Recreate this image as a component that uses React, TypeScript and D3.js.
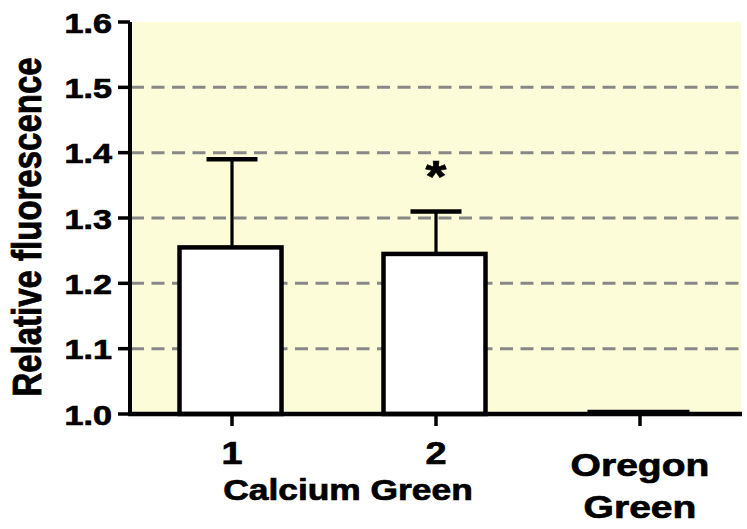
import React from "react";
import * as d3 from "d3";

const categories = ["1", "2", "Oregon Green"];
const means = [1.255, 1.245, 1.003];
const errTops = [1.39, 1.31, 1.003];
const significance = ["", "*", ""];
const yTicks = [1.0, 1.1, 1.2, 1.3, 1.4, 1.5, 1.6];
const gridValues = [1.1, 1.2, 1.3, 1.4, 1.5];
const groupLabel = "Calcium Green";
const yTitle = "Relative fluorescence";

const W = 747;
const H = 529;
const left = 130;
const right = 742;
const top = 22;
const bottom = 414;
const SX = 1.22;
const FONT = "'Liberation Sans', Arial, Helvetica, sans-serif";
const TS = { stroke: "#000", strokeWidth: 0.7 };

export default function App() {
  const y = d3.scaleLinear().domain([1.0, 1.6]).range([bottom, top]);
  const x = d3.scalePoint<string>().domain(categories).range([left, right]).padding(0.5);
  const step = x.step();
  const barW = step * 0.5;
  const capW = 51;

  return (
    <svg width={W} height={H} style={{ position: "absolute", left: 0, top: 0, background: "#fff" }}>
      <rect x={left} y={top} width={right - left - 1} height={bottom - top} fill="#FCFCD8" />
      {gridValues.map((v) => (
        <line key={v} x1={left + 1} x2={right - 1} y1={y(v)} y2={y(v)} stroke="#888" strokeWidth={3} strokeDasharray="13 7.5" />
      ))}
      {categories.map((c, i) => {
        const cx = x(c)! - 1.5;
        const tall = y(1.0) - y(means[i]) > 4;
        return (
          <g key={c}>
            {errTops[i] > means[i] && (
              <g>
                <line x1={cx + 1.5} x2={cx + 1.5} y1={y(means[i])} y2={y(errTops[i])} stroke="#000" strokeWidth={3.2} />
                <line x1={cx + 1.5 - capW / 2} x2={cx + 1.5 + capW / 2} y1={y(errTops[i])} y2={y(errTops[i])} stroke="#000" strokeWidth={4.5} />
              </g>
            )}
            {tall ? (
              <rect x={cx - barW / 2} y={y(means[i])} width={barW} height={y(1.0) - y(means[i])} fill="#fff" stroke="#000" strokeWidth={4.5} />
            ) : (
              <line x1={cx - barW / 2} x2={cx + barW / 2} y1={y(means[i])} y2={y(means[i])} stroke="#000" strokeWidth={4.5} />
            )}
            {significance[i] && (
              <text transform={`translate(${cx + 1.5},${y(errTops[i]) - 19}) scale(${SX},1)`} textAnchor="middle" fontFamily={FONT} fontWeight="bold" fontSize={44} {...TS}>
                {significance[i]}
              </text>
            )}
          </g>
        );
      })}
      {/* axes */}
      <line x1={left} x2={left} y1={top} y2={bottom + 2} stroke="#000" strokeWidth={4} />
      <line x1={left - 2} x2={right} y1={bottom} y2={bottom} stroke="#000" strokeWidth={4.5} />
      {yTicks.map((v) => (
        <g key={v}>
          <line x1={left - 12} x2={left} y1={y(v)} y2={y(v)} stroke="#000" strokeWidth={3.5} />
          <text transform={`translate(${left - 18},${y(v) + 10.5}) scale(${SX},1)`} textAnchor="end" fontFamily={FONT} fontWeight="bold" fontSize={28} {...TS}>
            {d3.format(".1f")(v)}
          </text>
        </g>
      ))}
      {categories.map((c) => (
        <line key={c} x1={x(c)!} x2={x(c)!} y1={bottom} y2={bottom + 12} stroke="#000" strokeWidth={3.5} />
      ))}
      <text transform={`translate(${x("1")!},464) scale(${SX},1)`} textAnchor="middle" fontFamily={FONT} fontWeight="bold" fontSize={31} {...TS}>1</text>
      <text transform={`translate(${x("2")!},464) scale(${SX},1)`} textAnchor="middle" fontFamily={FONT} fontWeight="bold" fontSize={31} {...TS}>2</text>
      <text transform={`translate(${(x("1")! + x("2")!) / 2 + 14},500) scale(${SX},1)`} textAnchor="middle" fontFamily={FONT} fontWeight="bold" fontSize={29} {...TS}>{groupLabel}</text>
      {categories[2].split(" ").map((w, k) => (
        <text key={w} transform={`translate(${x(categories[2])!},${476 + k * 42}) scale(${SX},1)`} textAnchor="middle" fontFamily={FONT} fontWeight="bold" fontSize={32} {...TS}>{w}</text>
      ))}
      <text transform={`translate(41,227) scale(${SX},1) rotate(-90)`} textAnchor="middle" fontFamily={FONT} fontWeight="bold" fontSize={33} {...TS}>{yTitle}</text>
    </svg>
  );
}
